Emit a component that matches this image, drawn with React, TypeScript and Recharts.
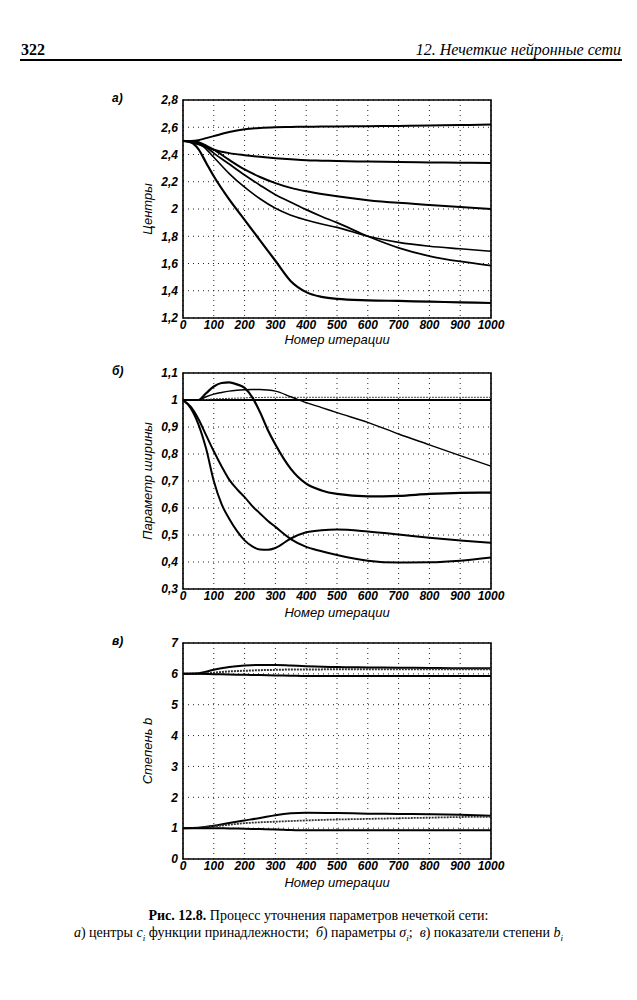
import React from "react";
import { LineChart, Line, XAxis, YAxis, CartesianGrid, ReferenceArea } from "recharts";

// iteration grids
const itersA = [0, 25, 50, 75, 100, 150, 200, 250, 300, 350, 400, 450, 500, 600, 700, 800, 900, 1000];
const itersB = [0, 25, 50, 75, 100, 125, 150, 175, 200, 225, 250, 275, 300, 350, 400, 450, 500, 600, 700, 800, 900, 1000];
const itersC = [0, 50, 100, 150, 200, 250, 300, 350, 400, 500, 600, 700, 800, 900, 1000];

const xTicks = [0, 100, 200, 300, 400, 500, 600, 700, 800, 900, 1000];
const centerTicks = [1.2, 1.4, 1.6, 1.8, 2, 2.2, 2.4, 2.6, 2.8];
const widthTicks = [0.3, 0.4, 0.5, 0.6, 0.7, 0.8, 0.9, 1, 1.1];
const powerTicks = [0, 1, 2, 3, 4, 5, 6, 7];

// а) центры
const c1 = [2.5, 2.5, 2.505, 2.52, 2.535, 2.565, 2.585, 2.595, 2.6, 2.602, 2.604, 2.605, 2.606, 2.608, 2.61, 2.613, 2.616, 2.62];
const c2 = [2.5, 2.49, 2.475, 2.455, 2.435, 2.41, 2.395, 2.383, 2.373, 2.365, 2.358, 2.355, 2.352, 2.348, 2.345, 2.342, 2.34, 2.337];
const c3 = [2.5, 2.5, 2.49, 2.465, 2.435, 2.36, 2.29, 2.235, 2.19, 2.155, 2.13, 2.11, 2.093, 2.065, 2.045, 2.03, 2.015, 2.0];
const c4 = [2.5, 2.5, 2.485, 2.44, 2.38, 2.26, 2.16, 2.075, 2.005, 1.955, 1.92, 1.89, 1.865, 1.8, 1.755, 1.727, 1.708, 1.69];
const c5 = [2.5, 2.5, 2.49, 2.455, 2.41, 2.33, 2.25, 2.175, 2.105, 2.05, 1.995, 1.945, 1.9, 1.8, 1.715, 1.655, 1.615, 1.585];
const c6 = [2.5, 2.49, 2.44, 2.34, 2.24, 2.07, 1.92, 1.77, 1.62, 1.47, 1.39, 1.355, 1.34, 1.33, 1.325, 1.32, 1.315, 1.31];

// б) параметры ширины
const s1 = [1, 1, 1, 1, 1, 1, 1, 1, 1, 1, 1, 1, 1, 1, 1, 1, 1, 1, 1, 1, 1, 1];
const s2 = [1, 1, 1, 1.002, 1.004, 1.005, 1.006, 1.007, 1.008, 1.009, 1.009, 1.01, 1.01, 1.01, 1.01, 1.01, 1.01, 1.01, 1.01, 1.01, 1.01, 1.01];
const s3 = [1, 1, 1, 1.025, 1.05, 1.063, 1.065, 1.058, 1.045, 1.01, 0.955, 0.89, 0.835, 0.745, 0.69, 0.665, 0.652, 0.643, 0.645, 0.652, 0.656, 0.657];
const s4 = [1, 1, 1, 1.012, 1.022, 1.028, 1.033, 1.036, 1.038, 1.039, 1.039, 1.037, 1.033, 1.012, 0.99, 0.972, 0.953, 0.917, 0.874, 0.834, 0.794, 0.755];
const s5 = [1, 0.97, 0.91, 0.82, 0.7, 0.615, 0.56, 0.515, 0.48, 0.458, 0.446, 0.445, 0.452, 0.487, 0.51, 0.518, 0.52, 0.513, 0.502, 0.49, 0.48, 0.471];
const s6 = [1, 0.975, 0.93, 0.87, 0.81, 0.755, 0.705, 0.67, 0.64, 0.607, 0.58, 0.553, 0.53, 0.485, 0.456, 0.44, 0.426, 0.405, 0.398, 0.399, 0.405, 0.417];

// в) степень b
const b1 = [6, 6.02, 6.13, 6.22, 6.27, 6.29, 6.29, 6.27, 6.25, 6.22, 6.21, 6.2, 6.19, 6.18, 6.18];
const b2 = [6, 6, 6.04, 6.08, 6.1, 6.12, 6.13, 6.14, 6.14, 6.15, 6.15, 6.15, 6.15, 6.15, 6.15];
const b3 = [6, 6, 5.99, 5.98, 5.97, 5.96, 5.95, 5.94, 5.93, 5.93, 5.93, 5.93, 5.93, 5.93, 5.93];
const b4 = [1, 1.01, 1.08, 1.17, 1.25, 1.33, 1.42, 1.48, 1.5, 1.49, 1.47, 1.46, 1.45, 1.43, 1.4];
const b5 = [1, 1.01, 1.06, 1.11, 1.16, 1.19, 1.21, 1.23, 1.25, 1.28, 1.3, 1.32, 1.34, 1.36, 1.37];
const b6 = [1, 1, 1, 0.99, 0.98, 0.97, 0.96, 0.94, 0.93, 0.93, 0.93, 0.93, 0.93, 0.93, 0.93];

type S = { key: string; values: number[]; width: number; color?: string; dash?: string };

const toRows = (iters: number[], series: S[]) =>
  iters.map((it, i) => {
    const row: Record<string, number> = { it };
    series.forEach((s) => (row[s.key] = s.values[i]));
    return row;
  });

const tickFont = { fontFamily: "Liberation Sans, Arial", fontWeight: 700, fontStyle: "italic", fontSize: 12, fill: "#000" };
const comma = (v: number) => String(v).replace(".", ",");

const PLOT_L = 183;
const PLOT_R = 491;
const CH_LEFT = 100;
const CH_W = 420;

function Panel({ iters, series, domain, ticks, plotTop, plotBottom, yTitle, label, titleGap }: {
  iters: number[]; series: S[]; domain: [number, number]; ticks: number[];
  plotTop: number; plotBottom: number; yTitle: string; label: string; titleGap: number;
}) {
  const rows = toRows(iters, series);
  const top = plotTop - 15;
  const h = plotBottom - plotTop + 15 + 30;
  const cy = (plotTop + plotBottom) / 2;
  return (
    <>
      <div style={{ position: "absolute", left: 112, top: plotTop - 9, ...tickFont }}>{label}</div>
      <div style={{ position: "absolute", left: CH_LEFT, top }}>
        <LineChart width={CH_W} height={h} data={rows}
          margin={{ top: 15, right: CH_LEFT + CH_W - PLOT_R, left: PLOT_L - CH_LEFT - 40, bottom: 10 }}>
          <CartesianGrid stroke="#222" strokeDasharray="1 4" strokeWidth={1} />
          <XAxis dataKey="it" type="number" domain={[0, 1000]} ticks={xTicks} interval={0}
            height={20} tickLine={false} axisLine={false} tickSize={0} tickMargin={2} tick={tickFont} />
          <YAxis type="number" domain={domain} ticks={ticks} interval={0} width={40} allowDataOverflow
            tickLine={false} axisLine={false} tickSize={0} tickMargin={5} tick={tickFont} tickFormatter={comma} />
          {series.map((s) => (
            <Line key={s.key} type="monotone" dataKey={s.key} dot={false} stroke={s.color || "#000"}
              strokeWidth={s.width} strokeDasharray={s.dash} isAnimationActive={false} />
          ))}
          <ReferenceArea x1={0} x2={1000} y1={domain[0]} y2={domain[1]} fill="none" stroke="#000" strokeWidth={1.6} />
        </LineChart>
      </div>
      <div style={{ position: "absolute", left: PLOT_L, width: PLOT_R - PLOT_L, top: plotBottom + titleGap - 7,
        textAlign: "center", fontFamily: "Liberation Sans, Arial", fontStyle: "italic", fontSize: 13, lineHeight: "16px" }}>
        Номер итерации
      </div>
      <div style={{ position: "absolute", left: 148 - 100, top: cy - 8, width: 200, textAlign: "center",
        transform: "rotate(-90deg)", fontFamily: "Liberation Sans, Arial", fontStyle: "italic", fontSize: 13, lineHeight: "16px" }}>
        {yTitle}
      </div>
    </>
  );
}

export default function App() {
  const serif = "Liberation Serif, Times New Roman";
  return (
    <div style={{ position: "absolute", left: 0, top: 0, width: 637, height: 1000, background: "#fff", color: "#000" }}>
      <div style={{ position: "absolute", left: 21, top: 42, fontFamily: serif, fontWeight: 700, fontSize: 16, lineHeight: "16px" }}>322</div>
      <div style={{ position: "absolute", right: 16, top: 42, fontFamily: serif, fontStyle: "italic", fontSize: 16, lineHeight: "16px" }}>
        12. Нечеткие нейронные сети
      </div>
      <div style={{ position: "absolute", left: 20, top: 59, width: 602, height: 2, background: "#000" }} />

      <Panel iters={itersA} domain={[1.2, 2.8]} ticks={centerTicks} plotTop={100} plotBottom={318}
        yTitle="Центры" label="а)" titleGap={21}
        series={[
          { key: "c1", values: c1, width: 2 },
          { key: "c2", values: c2, width: 2 },
          { key: "c3", values: c3, width: 2 },
          { key: "c4", values: c4, width: 1.6 },
          { key: "c5", values: c5, width: 1.8 },
          { key: "c6", values: c6, width: 2.2 },
        ]} />

      <Panel iters={itersB} domain={[0.3, 1.1]} ticks={widthTicks} plotTop={373} plotBottom={589}
        yTitle="Параметр ширины" label="б)" titleGap={23}
        series={[
          { key: "s1", values: s1, width: 2.2 },
          { key: "s2", values: s2, width: 1, color: "#444", dash: "2 1" },
          { key: "s3", values: s3, width: 2.2 },
          { key: "s4", values: s4, width: 1.4 },
          { key: "s5", values: s5, width: 2 },
          { key: "s6", values: s6, width: 2 },
        ]} />

      <Panel iters={itersC} domain={[0, 7]} ticks={powerTicks} plotTop={643} plotBottom={859}
        yTitle="Степень b" label="в)" titleGap={23}
        series={[
          { key: "b1", values: b1, width: 2 },
          { key: "b2", values: b2, width: 2, color: "#333", dash: "2 1" },
          { key: "b3", values: b3, width: 2 },
          { key: "b4", values: b4, width: 2 },
          { key: "b5", values: b5, width: 1.8, color: "#333", dash: "2 1" },
          { key: "b6", values: b6, width: 2 },
        ]} />

      <div style={{ position: "absolute", left: 0, width: 637, top: 907, textAlign: "center", fontFamily: serif, fontSize: 14, lineHeight: "17px" }}>
        <b>Рис. 12.8.</b> Процесс уточнения параметров нечеткой сети:
      </div>
      <div style={{ position: "absolute", left: 0, width: 637, top: 924, textAlign: "center", fontFamily: serif, fontSize: 14, lineHeight: "17px" }}>
        <i>а</i>) центры <i>c</i><sub style={{ fontSize: 9 }}><i>i</i></sub> функции принадлежности;&nbsp; <i>б</i>) параметры <i>σ</i><sub style={{ fontSize: 9 }}><i>i</i></sub>;&nbsp; <i>в</i>) показатели степени <i>b</i><sub style={{ fontSize: 9 }}><i>i</i></sub>
      </div>
    </div>
  );
}
